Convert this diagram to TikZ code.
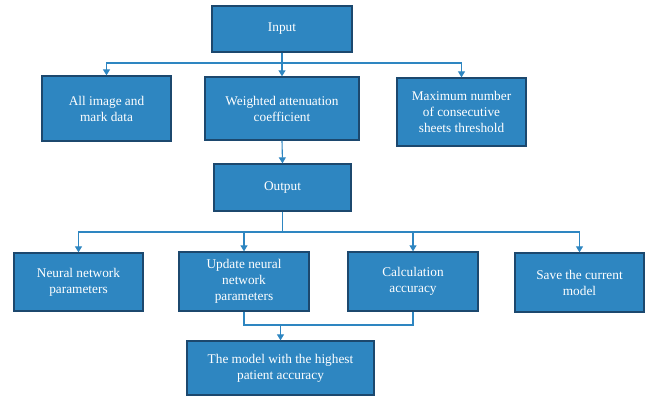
\documentclass[tikz,border=0pt]{standalone}
\usepackage{fontspec}
\setmainfont{Liberation Serif}
\usetikzlibrary{arrows.meta}
\definecolor{boxfill}{RGB}{46,134,193}
\definecolor{boxline}{RGB}{28,72,110}
\definecolor{conn}{RGB}{46,134,193}
\begin{document}
\begin{tikzpicture}[x=1pt,y=-1pt,
  box/.style={draw=boxline, line width=1.3pt, fill=boxfill, text=white, align=center,
    inner sep=2pt, font=\fontsize{13.3}{16}\selectfont},
  arr/.style={draw=conn, line width=1.1pt, -{Triangle[width=7pt,length=6pt]}},
  ln/.style={draw=conn, line width=1.1pt}]
\useasboundingbox (0,0) rectangle (645,398);
\node[box, minimum width=140pt, minimum height=46pt] (in) at (282,29) {Input};
\node[box, minimum width=129pt, minimum height=65pt] (all) at (106.5,108.5) {All image and\\mark data};
\node[box, minimum width=154pt, minimum height=63pt] (wac) at (282,108.5) {Weighted attenuation\\coefficient};
\node[box, minimum width=129pt, minimum height=68pt] (max) at (461.5,112) {Maximum number\\of consecutive\\sheets threshold};
\node[box, minimum width=137pt, minimum height=47pt] (out) at (282.5,187.5) {Output};
\node[box, minimum width=129pt, minimum height=58pt] (nn) at (78.5,282) {Neural network\\parameters};
\node[box, minimum width=130pt, minimum height=59pt] (upd) at (244,281.5) {Update neural\\network\\parameters};
\node[box, minimum width=130pt, minimum height=59pt] (calc) at (413,281.5) {Calculation\\accuracy};
\node[box, minimum width=129pt, minimum height=59pt] (save) at (579.5,282.5) {Save the current\\model};
\node[box, minimum width=187pt, minimum height=54pt] (best) at (280.5,368) {The model with the highest\\patient accuracy};
\coordinate (b1) at (282,63);
\coordinate (b2) at (282.5,232);
\coordinate (b3) at (280.5,325);
\draw[ln] (in.south) -- (b1);
\draw[arr] (b1) -| (all.north);
\draw[arr] (b1) -- (wac.north);
\draw[arr] (b1) -| (max.north);
\draw[arr] (wac.south) -- (out.north);
\draw[ln] (out.south) -- (b2);
\draw[arr] (b2) -| (nn.north);
\draw[arr] (b2) -| (upd.north);
\draw[arr] (b2) -| (calc.north);
\draw[arr] (b2) -| (save.north);
\draw[ln] (upd.south) |- (b3);
\draw[ln] (calc.south) |- (b3);
\draw[arr] (b3) -- (best.north);
\end{tikzpicture}
\end{document}
